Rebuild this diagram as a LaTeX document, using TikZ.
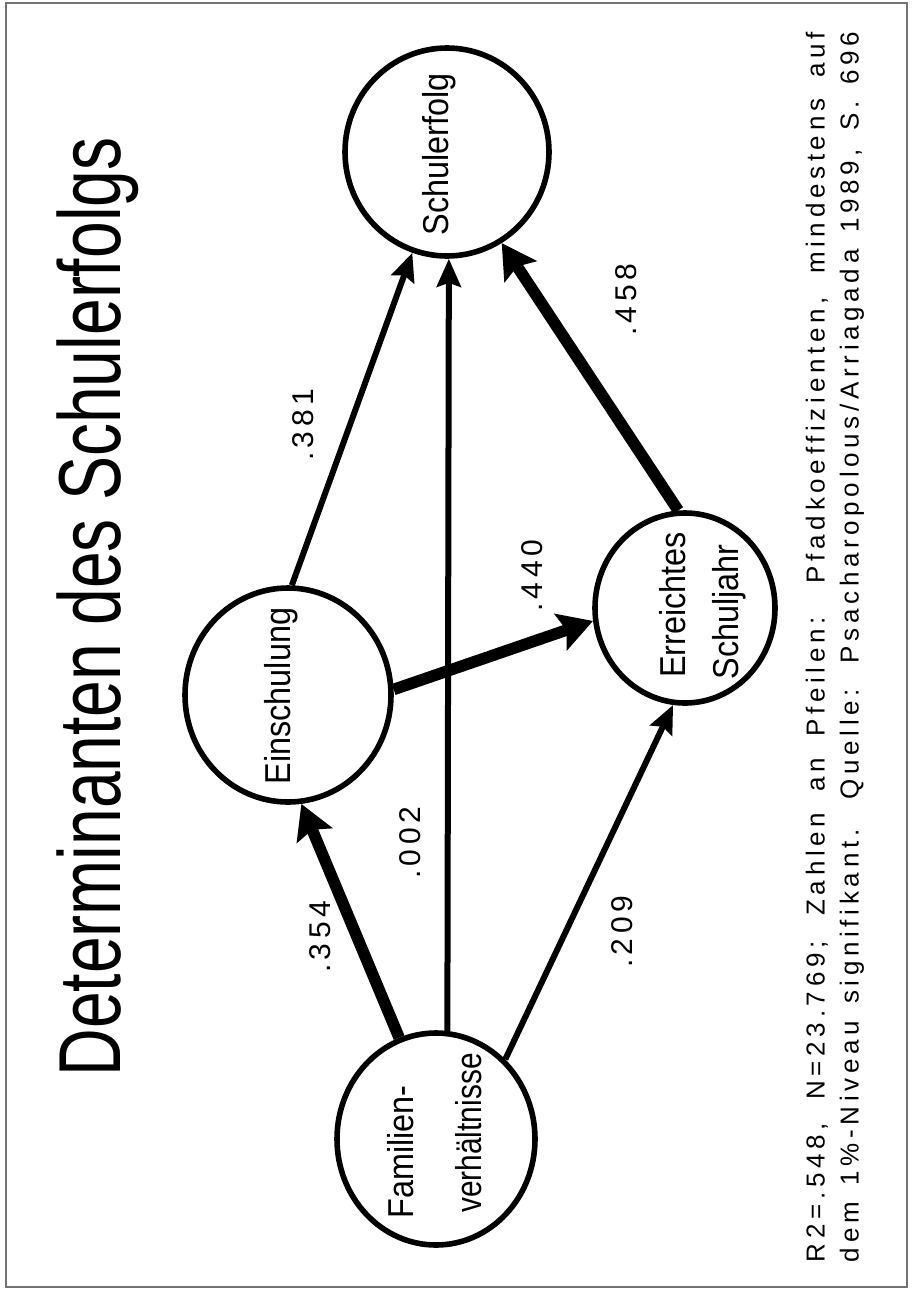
\documentclass[tikz,border=0pt]{standalone}
\usepackage{fontspec}
\setmainfont{Liberation Sans}
\newfontfamily\titlefont[FakeStretch=0.75]{Liberation Sans}
\newfontfamily\namefont[FakeStretch=0.9]{Liberation Sans}
\newfontfamily\narrowfont[FakeStretch=0.83]{Liberation Sans}
\newfontfamily\numfont[LetterSpace=15]{Liberation Sans}
\newfontfamily\notefont[LetterSpace=18]{Liberation Sans}
\newcommand\noteline[1]{\makebox[615pt][s]{\spaceskip=6pt plus 1fil #1}}
\usetikzlibrary{arrows.meta,shapes.geometric}
\tikzstyle{vertex}=[ellipse,draw,line width=2.8pt,inner sep=0pt]
\tikzstyle{vname}=[rotate=90,anchor=base,inner sep=0pt,font=\namefont\fontsize{18}{18}\selectfont]
\tikzstyle{edge} = [draw,line width=3pt,-{Stealth[length=14pt,width=12pt,inset=2pt]}]
\tikzstyle{heavy} = [draw,line width=5.8pt,-{Stealth[length=17pt,width=19pt,inset=3pt]}]
\tikzstyle{weight} = [rotate=90,inner sep=0pt,font=\numfont\fontsize{15}{15}\selectfont]

\begin{document}
\begin{tikzpicture}[x=0.5pt,y=-0.5pt]
				\useasboundingbox (0,0) rectangle (913,1290);
				\draw[black!55,line width=0.8pt] (6,3) rectangle (907,1287);

				% Title of the slide
				\node[rotate=90,anchor=base,inner sep=0pt,font=\titlefont\fontsize{44}{44}\selectfont] (title) at (120,607) {Determinanten des Schulerfolgs};

				% First we draw the vertices
				\foreach \pos/\name/\w/\h in {{(447,152)/schul/102/104}, {(288,695)/einsch/103/107},
										{(685,608)/erreicht/90/95}, {(436,1139)/fam/99/106}}
				\node[vertex,minimum width=\w pt,minimum height=\h pt] (\name) at \pos {};

				% Names inside the vertices
				\foreach \pos/\name/\txt in {{(448,154)/schul-a/Schulerfolg}, {(290,696)/einsch-a/Einschulung},
										{(685,605)/erreicht-a/Erreichtes}, {(738,612)/erreicht-b/Schuljahr},
										{(413,1152)/fam-a/Familien-}}
				\node[vname] (\name) at \pos {\txt};
				\node[vname,font=\narrowfont\fontsize{18}{18}\selectfont] (fam-b) at (481,1133) {verhältnisse};

				% Connect vertices with edges
				\foreach \source/ \dest in {fam.84/schul.271, fam.49/erreicht.263, einsch.88/schul.251}
				\path[edge] (\source) -- (\dest);

				\foreach \source/ \dest in {fam.110/einsch.277, einsch.3/erreicht.188, erreicht.94/schul.301}
				\path[heavy] (\source) -- (\dest);

				% Path coefficients
				\foreach \pos/\name/\weight in {{(320,937)/w-fe/.354}, {(410,843)/w-fs/.002}, {(622,932)/w-fr/.209},
										{(303,425)/w-es/.381}, {(532,576)/w-er/.440}, {(626,300)/w-rs/.458}}
				\node[weight] (\name) at \pos {\weight};

				% Note below the diagram
				\node[rotate=90,align=left,inner sep=0pt,font=\notefont\fontsize{13}{17}\selectfont] (note) at (835,647)
				{\noteline{R2=.548, N=23.769; Zahlen an Pfeilen: Pfadkoeffizienten, mindestens auf}\\
				 \noteline{dem 1\%-Niveau signifikant. Quelle: Psacharopolous/Arriagada 1989, S. 696}};

			\end{tikzpicture}
\end{document}
